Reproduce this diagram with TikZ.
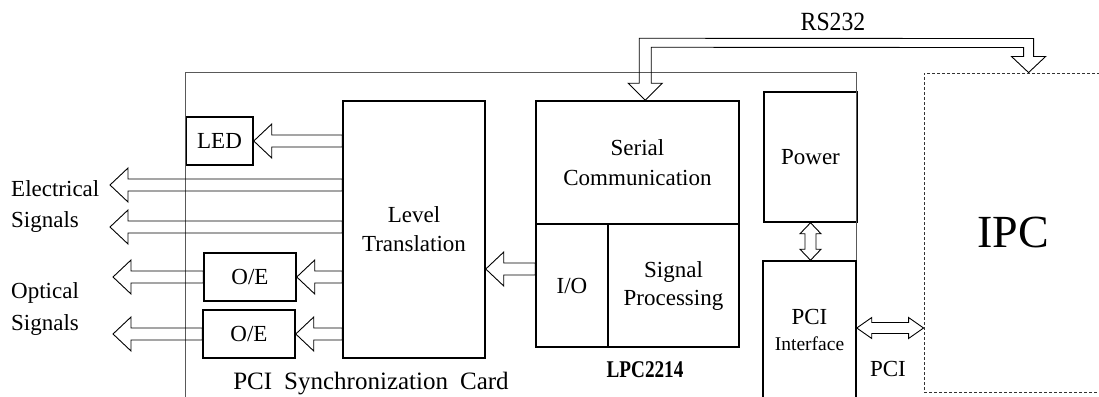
\documentclass[tikz,border=0pt]{standalone}
\usepackage{fontspec}
\setmainfont{Liberation Serif}
\usetikzlibrary{calc}
\tikzset{
  box/.style={draw, line width=1.5pt, inner sep=0pt, align=center, font=\fontsize{23}{29}\selectfont},
  blk/.style={draw, line width=0.9pt, line join=miter},
  lbl/.style={inner sep=0pt, align=center, font=\fontsize{23}{29}\selectfont},
  frame/.style={draw=black!65, line width=0.8pt},
}
% hollow block arrow pointing left: #1 = start (right end), #2 = tip
\newcommand\hleft[2]{%
  \draw[blk] (#2) -- ++(18,-17) -- ++(0,11) -- ($(#1)+(0,-6)$) -- ($(#1)+(0,6)$)
    -- ($(#2)+(18,6)$) -- ++(0,11) -- cycle;}
\begin{document}
\begin{tikzpicture}[x=1pt,y=-1pt]
\useasboundingbox (0,0) rectangle (1099,396);
\clip (0,0) rectangle (1099,396);

% blocks
\node[box, minimum width=67pt, minimum height=48pt] (led) at (219.5,141) {LED};
\node[box, minimum width=142pt, minimum height=257pt] (lvl) at (414,229.5) {Level\\Translation};
\node[box, minimum width=92pt, minimum height=48pt] (oe1) at (250,277) {O/E};
\node[box, minimum width=92pt, minimum height=48pt] (oe2) at (249,334) {O/E};
\node[box, minimum width=203pt, minimum height=123pt, font=\fontsize{23}{30}\selectfont] (serial) at (637.5,162.5) {Serial\\Communication};
\node[box, minimum width=72pt, minimum height=123pt] (io) at (572,285.5) {I/O};
\node[box, minimum width=131pt, minimum height=123pt, font=\fontsize{23}{28}\selectfont] (sp) at (673.5,285.5) {Signal\\Processing};
\node[box, minimum width=93pt, minimum height=130pt] (power) at (810.5,157) {Power};
\node[box, minimum width=93pt, minimum height=138pt] (pciif) at (809.5,330) {PCI\\[-3pt]{\fontsize{19.5}{24}\selectfont Interface}};
\node[draw=black!80, line width=0.9pt, dash pattern=on 3pt off 2pt, minimum width=186pt, minimum height=319pt, inner sep=0pt,
      font=\fontsize{46}{50}\selectfont] (ipc) at (1017,232.5) {\hspace*{-8pt}IPC};

% card frame
\coordinate (f1) at (185,400);
\coordinate (f2) at (185,72);
\draw[frame] (f1) -- (f2) -- (pciif.north east |- f2) -- (pciif.north east);

% labels
\node[lbl, font=\fontsize{25}{30}\selectfont] (card) at (371,384) {PCI\hspace{12pt}Synchronization\hspace{12pt}Card};
\node[lbl, font=\fontsize{24}{30}\bfseries] (lpcl) at (645,370) {\scalebox{0.8}[1]{LPC2214}};
\node[lbl] (pcil) at (888,369) {PCI};
\node[lbl, font=\fontsize{25}{30}\selectfont] (rsl) at (833,22) {\scalebox{0.95}[1.05]{RS232}};
\node[lbl, align=left, anchor=west, font=\fontsize{23}{31}\selectfont] (elec) at (11,207) {Electrical\\Signals};
\node[lbl, align=left, anchor=west, font=\fontsize{23}{32}\selectfont] (opt) at (11,309) {Optical\\Signals};

% arrows to the left
\coordinate (ledS) at (lvl.west |- led.east);
\hleft{ledS}{led.east}
\coordinate (e1) at (110,185);
\coordinate (e1s) at (lvl.west |- e1);
\hleft{e1s}{e1}
\coordinate (e2) at (110,227);
\coordinate (e2s) at (lvl.west |- e2);
\hleft{e2s}{e2}
\coordinate (o1s) at (lvl.west |- oe1.east);
\hleft{o1s}{oe1.east}
\coordinate (o2s) at (lvl.west |- oe2.east);
\hleft{o2s}{oe2.east}
\coordinate (o1t) at (oe1.west -| 113,0);
\hleft{oe1.west}{o1t}
\coordinate (o2t) at (oe2.west -| 113,0);
\hleft{oe2.west}{o2t}
\coordinate (ioS) at (io.west |- 0,269);
\coordinate (ioT) at (lvl.east |- ioS);
\hleft{ioS}{ioT}

% Power <-> PCI interface
\coordinate (va) at (power.south);
\coordinate (vb) at (power.south |- pciif.north);
\draw[blk] (va) -- ++(10.5,11) -- ++(-5,0) -- ($(vb)+(5.5,-11)$) -- ++(5,0) -- (vb)
  -- ++(-10.5,-11) -- ++(5,0) -- ($(va)+(-5.5,11)$) -- ++(-5,0) -- cycle;

% PCI interface <-> IPC
\coordinate (pa) at (pciif.east |- 0,328);
\coordinate (pb) at (ipc.west |- pa);
\draw[blk] (pa) -- ++(15,-10.5) -- ++(0,5) -- ($(pb)+(-15,-5.5)$) -- ++(0,-5) -- (pb)
  -- ++(-15,10.5) -- ++(0,-5) -- ($(pa)+(15,5.5)$) -- ++(0,5) -- cycle;

% RS232
\coordinate (ra) at ($(serial.north west)+(110,0)$);
\coordinate (rb) at ($(ipc.north west)+(105,0)$);
\draw[blk] (ra) -- ++(-17,-17) -- ++(11,0) -- ($(ra)+(-6,-62)$) -- ($(rb)+(5,-34)$)
  -- ($(rb)+(5,-16)$) -- ++(12,0) -- (rb) -- ++(-17,-16) -- ++(12,0)
  -- ($(rb)+(-5,-25)$) -- ($(ra)+(6,-53)$) -- ($(ra)+(6,-17)$) -- ++(11,0) -- cycle;
\end{tikzpicture}
\end{document}
